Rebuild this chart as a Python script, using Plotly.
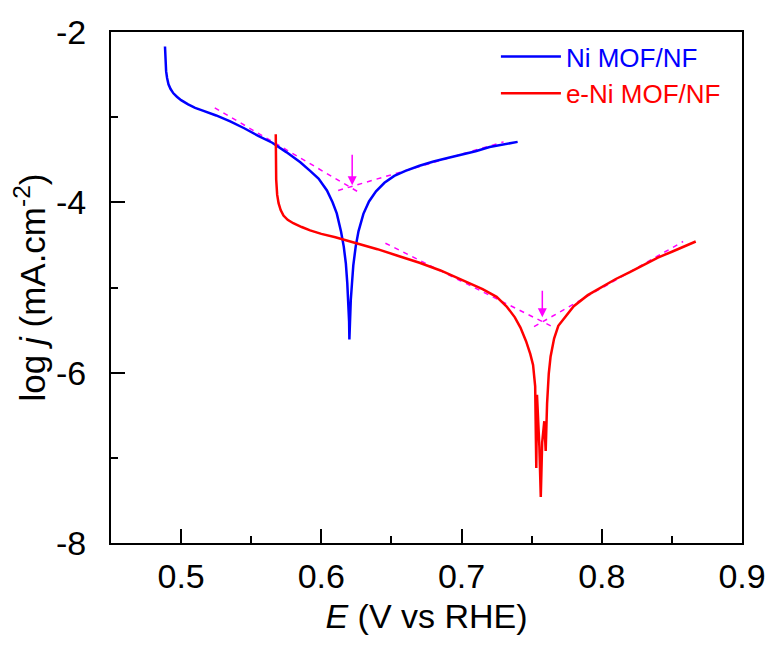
import plotly.graph_objects as go

# ---- data ----
ni_E = [0.4885, 0.4888, 0.4893, 0.4900, 0.4910, 0.4925, 0.4945, 0.4970, 0.5000, 0.5050,
        0.5100, 0.5150, 0.5250, 0.5350, 0.5450, 0.5550, 0.5650, 0.5750, 0.5850, 0.5920,
        0.5980, 0.6040, 0.6080, 0.6110, 0.6140, 0.6160, 0.6175, 0.6185, 0.6193, 0.6198,
        0.6200, 0.6203, 0.6206, 0.6210, 0.6218, 0.6228, 0.6245, 0.6265, 0.6300, 0.6340,
        0.6390, 0.6450, 0.6520, 0.6600, 0.6700, 0.6800, 0.6900, 0.7000, 0.7100, 0.7200,
        0.7300, 0.7400]
ni_logj = [-2.17, -2.31, -2.46, -2.54, -2.615, -2.67, -2.72, -2.76, -2.80, -2.85,
           -2.89, -2.92, -2.98, -3.05, -3.13, -3.22, -3.30, -3.41, -3.53, -3.63,
           -3.72, -3.86, -4.00, -4.13, -4.34, -4.52, -4.72, -4.945, -5.15, -5.40,
           -5.61, -5.35, -5.50, -5.15, -4.965, -4.74, -4.52, -4.34, -4.135, -3.99,
           -3.87, -3.77, -3.69, -3.63, -3.57, -3.52, -3.48, -3.44, -3.40, -3.35,
           -3.32, -3.29]

eni_E = [0.5675, 0.5676, 0.5678, 0.5685, 0.5695, 0.5710, 0.5730, 0.5760, 0.5800, 0.5860,
         0.5920, 0.6000, 0.6100, 0.6250, 0.6400, 0.6550, 0.6700, 0.6850, 0.6950, 0.7050,
         0.7150, 0.7250, 0.7320, 0.7380, 0.7420, 0.7460, 0.7490, 0.7510, 0.7525, 0.7533,
         0.7538, 0.7545, 0.7555, 0.7565, 0.7575, 0.7590, 0.7600, 0.7610, 0.7622, 0.7635,
         0.7660, 0.7690, 0.7740, 0.7800, 0.7900, 0.8000, 0.8100, 0.8200, 0.8300, 0.8400,
         0.8500, 0.8600, 0.8670]
eni_logj = [-3.20, -3.43, -3.73, -3.91, -4.01, -4.09, -4.155, -4.205, -4.245, -4.29,
            -4.33, -4.37, -4.41, -4.48, -4.55, -4.63, -4.71, -4.80, -4.87, -4.945,
            -5.02, -5.11, -5.22, -5.35, -5.47, -5.63, -5.78, -5.91, -6.16, -7.12,
            -6.26, -6.46, -6.87, -7.46, -6.82, -6.57, -6.92, -6.36, -6.01, -5.81,
            -5.60, -5.45, -5.35, -5.22, -5.09, -4.99, -4.90, -4.82, -4.73, -4.65,
            -4.58, -4.51, -4.46]

# Tafel extrapolation lines (start, end)
ni_cat_E = [0.524, 0.6255]
ni_cat_logj = [-2.89, -3.87]
ni_an_E = [0.612, 0.730]
ni_an_logj = [-3.86, -3.29]
eni_cat_E = [0.6457, 0.7636]
eni_cat_logj = [-4.48, -5.45]
eni_an_E = [0.7517, 0.858]
eni_an_logj = [-5.46, -4.46]

# corrosion-potential arrows: E, tail logj, head logj
arrow_E = [0.622, 0.7576]
arrow_tail = [-3.425, -5.02]
arrow_head = [-3.80, -5.35]

x_ticks = [0.5, 0.6, 0.7, 0.8, 0.9]
x_ticktext = ["0.5", "0.6", "0.7", "0.8", "0.9"]
y_ticks = [-8, -6, -4, -2]
y_ticktext = ["-8", "-6", "-4", "-2"]

BLUE = "#0000FF"
RED = "#FF0000"
MAG = "#FF00FF"
FONT = "Liberation Sans, Arial, sans-serif"

fig = go.Figure()

dash = dict(color=MAG, width=1.5, dash="5px,5px")
for xs, ys in [(ni_cat_E, ni_cat_logj), (ni_an_E, ni_an_logj),
               (eni_cat_E, eni_cat_logj), (eni_an_E, eni_an_logj)]:
    fig.add_trace(go.Scatter(x=xs, y=ys, mode="lines", line=dash,
                             showlegend=False, hoverinfo="skip"))

fig.add_trace(go.Scatter(x=ni_E, y=ni_logj, mode="lines",
                         line=dict(color=BLUE, width=2.5),
                         name='<span style="color:#0000FF">Ni MOF/NF</span>'))
fig.add_trace(go.Scatter(x=eni_E, y=eni_logj, mode="lines",
                         line=dict(color=RED, width=2.5),
                         name='<span style="color:#FF0000">e-Ni MOF/NF</span>'))

for e, t, h in zip(arrow_E, arrow_tail, arrow_head):
    fig.add_annotation(x=e, y=h, ax=e, ay=t, xref="x", yref="y",
                       axref="x", ayref="y", text="", showarrow=True,
                       arrowhead=2, arrowsize=1.2, arrowwidth=1.5,
                       arrowcolor=MAG)

axis_common = dict(
    showline=True, linecolor="black", linewidth=2, mirror=True,
    ticks="inside", ticklen=14, tickwidth=2, tickcolor="black",
    showgrid=False, zeroline=False,
    tickfont=dict(family=FONT, size=34, color="black"),
)

fig.update_xaxes(
    range=[0.45, 0.9], tickvals=x_ticks, ticktext=x_ticktext,
    minor=dict(ticks="inside", ticklen=7, tickwidth=2, tickcolor="black", dtick=0.05,
               tick0=0.45, showgrid=False),
    title=dict(text="<i>E</i> (V vs RHE)", font=dict(family=FONT, size=34, color="black"),
               standoff=10),
    ticklabelstandoff=2,
    **axis_common,
)
fig.update_yaxes(
    range=[-8, -2], tickvals=y_ticks, ticktext=y_ticktext,
    minor=dict(ticks="inside", ticklen=7, tickwidth=2, tickcolor="black", dtick=1,
               tick0=-8, showgrid=False),
    title=dict(text="log <i>j</i> (mA.cm<sup>-2</sup>)",
               font=dict(family=FONT, size=35, color="black"), standoff=0),
    ticklabelstandoff=16,
    **axis_common,
)

fig.update_layout(
    width=770, height=646,
    margin=dict(l=111, r=28, t=32, b=103, autoexpand=False),
    paper_bgcolor="white", plot_bgcolor="white",
    showlegend=True,
    legend=dict(x=0.610, y=0.998, xanchor="left", yanchor="top",
                bgcolor="rgba(0,0,0,0)", borderwidth=0,
                font=dict(family=FONT, size=26), itemwidth=60,
                tracegroupgap=0),
)

fig.write_html("out.html")
